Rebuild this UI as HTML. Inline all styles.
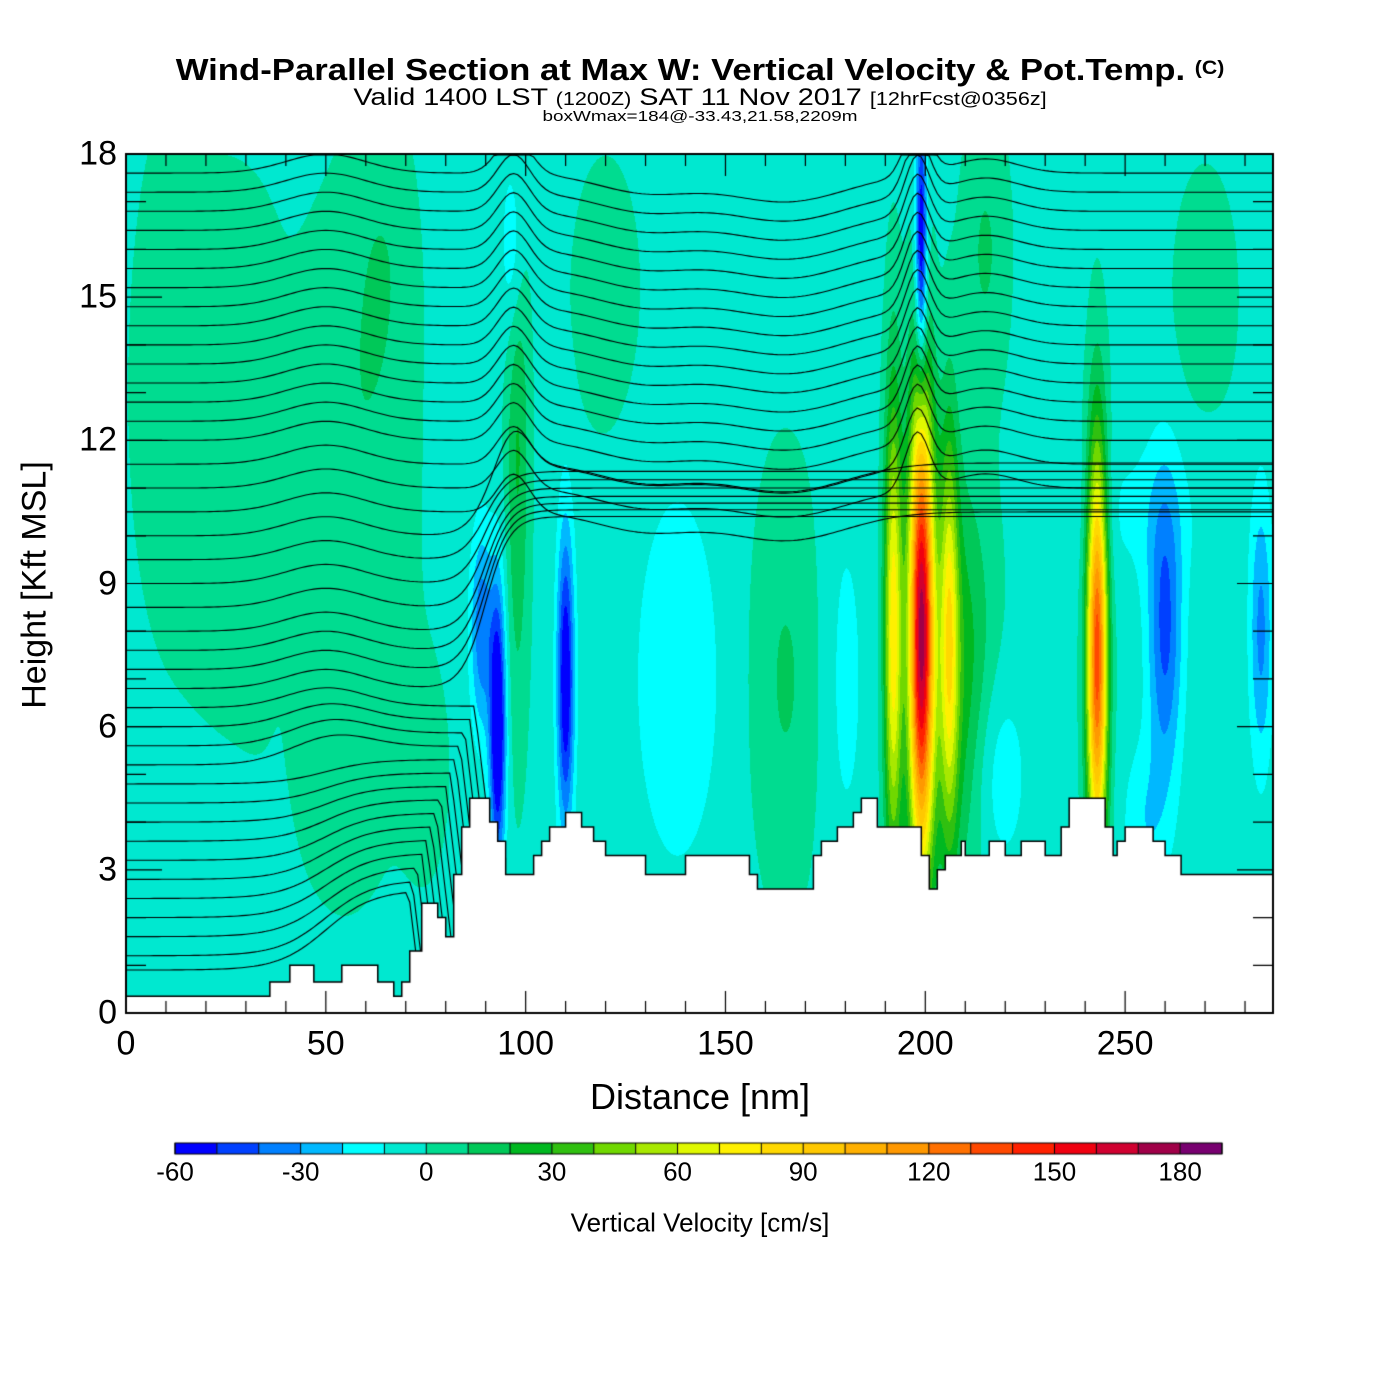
<!DOCTYPE html>
<html><head><meta charset="utf-8"><style>
html,body{margin:0;padding:0;background:#fff;}
body{width:1400px;height:1400px;position:relative;overflow:hidden;font-family:"Liberation Sans",sans-serif;}
.t{position:absolute;white-space:nowrap;color:#000;}
</style></head><body>
<div class="t" style="left:700px;top:52px;font-size:31px;font-weight:bold;transform:translateX(-50%) scaleX(1.12);">Wind-Parallel Section at Max W: Vertical Velocity &amp; Pot.Temp. <span style="font-size:19px;vertical-align:6px">(C)</span></div>
<div class="t" style="left:700px;top:84px;font-size:24px;transform:translateX(-50%) scaleX(1.2);">Valid 1400 LST <span style="font-size:18px">(1200Z)</span> SAT 11 Nov 2017 <span style="font-size:18px">[12hrFcst@0356z]</span></div>
<div class="t" style="left:700px;top:108px;font-size:15px;transform:translateX(-50%) scaleX(1.26);">boxWmax=184@-33.43,21.58,2209m</div>
<canvas id="c" width="1400" height="1400" style="position:absolute;left:0;top:0"></canvas>
<div class="t" style="left:35px;top:585px;font-size:34px;transform:translate(-50%,-50%) rotate(-90deg);">Height [Kft MSL]</div>
<div class="t" style="left:700px;top:1097px;font-size:36px;transform:translate(-50%,-50%);">Distance [nm]</div>
<div class="t" style="left:700px;top:1223px;font-size:26px;transform:translate(-50%,-50%);">Vertical Velocity [cm/s]</div>
<div id="labels"></div>
<script>
// data
const xTicks=[0,50,100,150,200,250];
const yTicks=[0,3,6,9,12,15,18];
const cbTicks=[-60,-30,0,30,60,90,120,150,180];
const cbColors=["#0000ff","#0040ff","#0080ff","#00b8ff","#00ffff","#00e8d0","#00dc90","#00c858","#00b820","#30c010","#70d800","#a8e800","#e0f800","#fff000","#ffd800","#ffc800","#ffb000","#ff9800","#ff7000","#ff4800","#ff2000","#f00010","#d00030","#a00048","#780070"];
const terrX=[0,36,41,47,54,63,67,69,71,74,78,80,82,84,86,91,93,95,102,104,106,110,114,117,120,130,140,156,158,172,174,178,182,184,188,199,201,203,205,209,210,216,220,224,230,234,236,245,247,248,250,257,260,264,279,287];
const terrH=[0.35,0.65,1.0,0.65,1.0,0.65,0.35,0.65,1.3,2.3,2.0,1.6,2.9,3.9,4.5,4.0,3.6,2.9,3.3,3.6,3.9,4.2,3.9,3.6,3.3,2.9,3.3,2.9,2.6,3.3,3.6,3.9,4.2,4.5,3.9,3.3,2.6,3.0,3.3,3.6,3.3,3.6,3.3,3.6,3.3,3.9,4.5,3.9,3.3,3.6,3.9,3.6,3.3,2.9,2.9,3.3];
// w blobs: center dist, center height, sigma x, sigma z, amplitude (cm/s)
const blobX=[199,192,206,243,93,110,89,199,260,284,138,218,208,165,55,25,98,97,215,60,75,255,120,180,270,255,10,65,40];
const blobZ=[8,8,8,7.5,6,7,8,16,8,8,7,5,7,7,8,12,12,16,16,14,5,10.5,15,7,15,4,14,16,10];
const blobSX=[2.2,1.6,1.6,1.8,1.4,1.5,2,1,3,2,8,5,6,6,12,14,2,2,4,8,4,12,6,4,6,4,5,5,4];
const blobSZ=[3.5,3.5,3,3,2,2.2,1.5,2,2.2,2,3,1.5,3,3,4,4,4,1.5,2,3,1.5,1.2,2,3,2,1.2,3,2,3];
const blobA=[170,80,60,140,-70,-60,-35,-65,-40,-30,-15,-16,32,14,9,9,24,-22,14,8,7,-9,9,-10,8,-15,7,7,-5];
const wBase=-3;
// potential temperature contour base heights (kft at x=0)
const thetaZ0=[0.9,1.2,1.6,2.0,2.4,2.8,3.2,3.6,4.0,4.4,4.8,5.2,5.6,6.0,6.4,6.8,7.2,7.6,8.0,8.5,9.0,9.5,10.0,10.5,11.0,11.5,12.0,12.4,12.8,13.2,13.6,14.0,14.4,14.8,15.2,15.6,16.0,16.4,16.8,17.2,17.6];
// bumps of contours: center x, sigma x, displacement kft, min level affected
const bumpX=[97,130,165,198,215,50];
const bumpS=[4,12,15,3,8,10];
const bumpD=[0.8,-0.4,-0.6,1.2,0.3,0.4];
const bumpZmin=[10,10,10,11,11,5];

const X0=126,X1=1273,Y0=1013,Y1=154;
const px=d=>X0+d*(X1-X0)/287;
const py=z=>Y0-z*(Y0-Y1)/18;
const cv=document.getElementById('c');const ctx=cv.getContext('2d');
function w(d,z){let v=wBase;for(let i=0;i<blobX.length;i++){const a=(d-blobX[i])/blobSX[i],b=(z-blobZ[i])/blobSZ[i];v+=blobA[i]*Math.exp(-0.5*(a*a+b*b));}return v;}
function hexToRgb(h){return [parseInt(h.substr(1,2),16),parseInt(h.substr(3,2),16),parseInt(h.substr(5,2),16)];}
const rgb=cbColors.map(hexToRgb);
const W=X1-X0,H=Y0-Y1;const img=ctx.createImageData(W,H);
for(let j=0;j<H;j++){const z=18-(j+0.5)*18/H;for(let i=0;i<W;i++){const d=(i+0.5)*287/W;let k=Math.floor((w(d,z)+60)/10);k=Math.max(0,Math.min(24,k));const c=rgb[k];const o=(j*W+i)*4;img.data[o]=c[0];img.data[o+1]=c[1];img.data[o+2]=c[2];img.data[o+3]=255;}}
ctx.putImageData(img,X0,Y1);
// theta contours
ctx.save();ctx.beginPath();ctx.rect(X0,Y1,W,H);ctx.clip();
ctx.strokeStyle='#000';ctx.lineWidth=1.1;
const labs=document.getElementById('labels');
thetaZ0.forEach((z0,li)=>{ctx.beginPath();for(let d=0;d<=287;d+=1){let z=z0;
 if(z0<6.5){z=z0+(6.5-z0)*0.3*(1/(1+Math.exp(-(d-50)/6)));const xd=68+z0*3;if(d>xd)z-=(d-xd)*0.7;}
 else if(z0<10.5){const zr=10.3+(z0-6.5)*0.35;const s=1/(1+Math.exp(-(d-90)/3));z=z*(1-s)+zr*s;}
 for(let b=0;b<bumpX.length;b++){if(z0>=bumpZmin[b]){const a=(d-bumpX[b])/bumpS[b];z+=bumpD[b]*Math.exp(-0.5*a*a);}}
 z=Math.min(z,17.98);
 if(d===0)ctx.moveTo(px(d),py(z));else ctx.lineTo(px(d),py(z));}
 ctx.stroke();});
ctx.restore();
// terrain
ctx.fillStyle='#fff';ctx.beginPath();ctx.moveTo(px(0),py(0));
for(let i=0;i<terrX.length;i++){const x1=i+1<terrX.length?terrX[i+1]:287;ctx.lineTo(px(terrX[i]),py(terrH[i]));ctx.lineTo(px(x1),py(terrH[i]));}
ctx.lineTo(px(287),py(0));ctx.closePath();ctx.fill();ctx.lineWidth=1.5;ctx.stroke();
// frame
ctx.lineWidth=2;ctx.strokeRect(X0,Y1,X1-X0,Y0-Y1);
ctx.lineWidth=1.2;
for(let d=0;d<=287;d+=10){const major=d%50===0;const L=major?22:12;ctx.beginPath();ctx.moveTo(px(d),Y0);ctx.lineTo(px(d),Y0-L);ctx.moveTo(px(d),Y1);ctx.lineTo(px(d),Y1+L);ctx.stroke();}
for(let z=0;z<=18;z++){const major=z%3===0;const L=major?36:20;ctx.beginPath();ctx.moveTo(X0,py(z));ctx.lineTo(X0+L,py(z));ctx.moveTo(X1,py(z));ctx.lineTo(X1-L,py(z));ctx.stroke();}
// tick labels
xTicks.forEach(d=>{const e=document.createElement('div');e.className='t';


e.style.cssText=`left:${px(d)}px;top:1044px;font-size:34px;transform:translate(-50%,-50%)`;e.textContent=d;labs.appendChild(e);});
yTicks.forEach(z=>{const e=document.createElement('div');e.className='t';


e.style.cssText=`right:${1400-117}px;top:${py(z)}px;font-size:34px;transform:translateY(-50%)`;e.textContent=z;labs.appendChild(e);});
// colorbar
const CB0=175,CBW=(1222-175)/25;
cbColors.forEach((c,i)=>{ctx.fillStyle=c;ctx.fillRect(CB0+i*CBW,1143,CBW,11);});
ctx.lineWidth=1;ctx.strokeStyle='#000';
for(let i=0;i<=25;i++){ctx.beginPath();ctx.moveTo(CB0+i*CBW,1143);ctx.lineTo(CB0+i*CBW,1154);ctx.stroke();}
ctx.strokeRect(CB0,1143,25*CBW,11);
cbTicks.forEach(v=>{const e=document.createElement('div');e.className='t';


e.style.cssText=`left:${CB0+(v+60)/10*CBW}px;top:1172px;font-size:26px;transform:translate(-50%,-50%)`;e.textContent=v;labs.appendChild(e);});
</script>
</body></html>
